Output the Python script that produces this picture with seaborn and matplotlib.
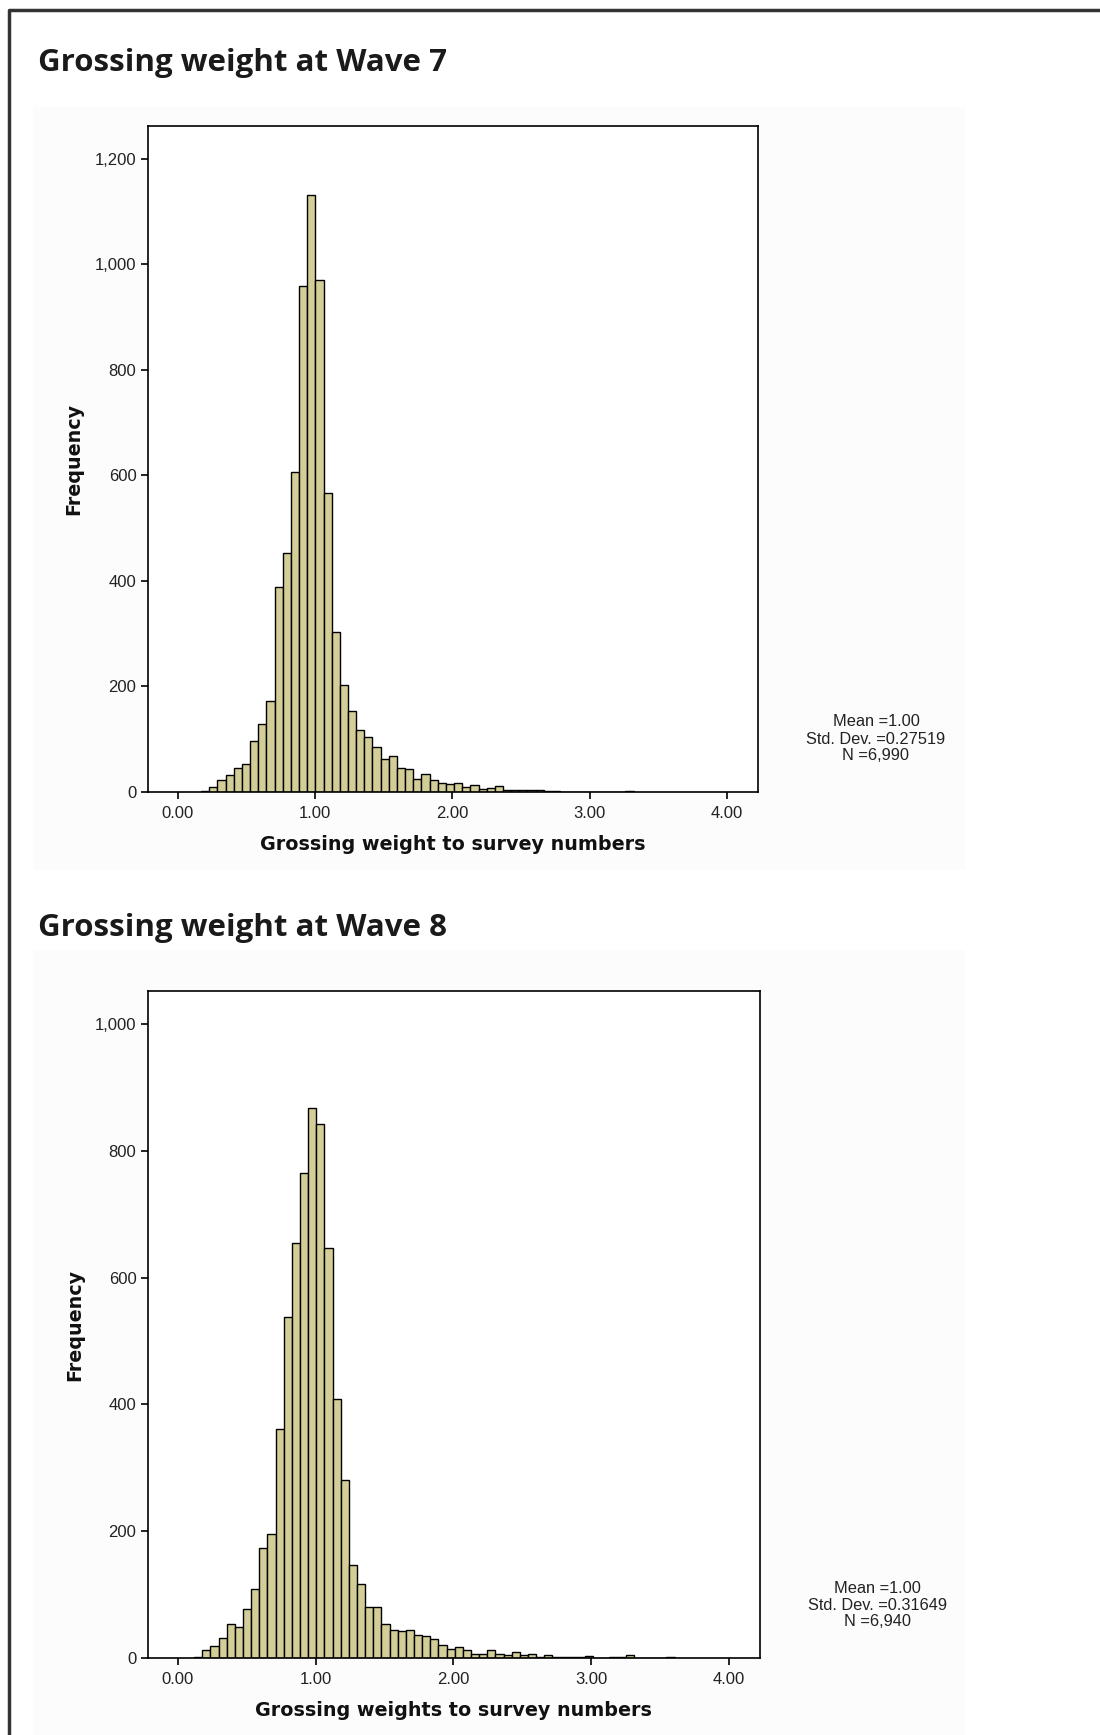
import numpy as np
import pandas as pd
import seaborn as sns
import matplotlib.pyplot as plt
from matplotlib.lines import Line2D
from matplotlib.patches import Rectangle
from matplotlib.ticker import FuncFormatter

# wave 7 histogram
w7_start = 0.1706
w7_width = 0.0594
w7_counts = [1, 10, 22, 32, 46, 54, 96, 128, 172, 388, 452, 607, 958, 1131, 971, 566,
             304, 203, 153, 117, 104, 86, 63, 68, 46, 43, 24, 35, 22, 17, 16, 18, 9, 13,
             6, 8, 11, 3, 3, 4, 3, 4, 1, 1, 0, 0, 0, 0, 0, 0, 0, 0, 1]
w7_stats = ['Mean =1.00', 'Std. Dev. =0.27519', 'N =6,990']
w7_title = 'Grossing weight at Wave 7'
w7_xlabel = 'Grossing weight to survey numbers'
w7_yticks = [0, 200, 400, 600, 800, 1000, 1200]

# wave 8 histogram
w8_start = 0.118
w8_width = 0.0591
w8_counts = [2, 12, 19, 32, 53, 49, 77, 109, 174, 196, 361, 538, 654, 765, 867, 842,
             647, 408, 281, 146, 116, 81, 80, 54, 44, 42, 44, 37, 34, 30, 21, 14, 17, 12,
             7, 7, 13, 7, 5, 10, 4, 7, 2, 4, 2, 2, 2, 1, 3, 0, 0, 1, 1, 5, 0, 0, 0, 0, 1]
w8_stats = ['Mean =1.00', 'Std. Dev. =0.31649', 'N =6,940']
w8_title = 'Grossing weight at Wave 8'
w8_xlabel = 'Grossing weights to survey numbers'
w8_yticks = [0, 200, 400, 600, 800, 1000]

xticks = [0, 1, 2, 3, 4]

sns.set_style('white')
plt.rcParams['font.family'] = ['Liberation Sans', 'DejaVu Sans']

W, H = 1100, 1735
fig = plt.figure(figsize=(W / 100, H / 100), dpi=100)
fig.patch.set_facecolor('white')


def fx(px):
    return px / W


def fy(py):
    return 1 - py / H


# outer frame (only left + top are inside the page)
fig.add_artist(Line2D([fx(9), fx(9), fx(W + 5)], [fy(H + 5), fy(10), fy(10)],
                      color='#333333', lw=2.5, transform=fig.transFigure))

# faint SPSS chart backgrounds
fig.add_artist(Rectangle((fx(33), fy(870)), fx(965) - fx(33), fy(107) - fy(870),
                         transform=fig.transFigure, facecolor='#fcfcfc', edgecolor='none', zorder=0))
fig.add_artist(Rectangle((fx(33), fy(H)), fx(965) - fx(33), fy(950) - fy(H),
                         transform=fig.transFigure, facecolor='#fcfcfc', edgecolor='none', zorder=0))

panels = [
    dict(start=w7_start, width=w7_width, counts=w7_counts, stats=w7_stats, title=w7_title,
         xlabel=w7_xlabel, yticks=w7_yticks, ytop=1262, box=(147.5, 126, 758, 792),
         title_y=63, stats_x=876, stats_y=[722, 739, 755]),
    dict(start=w8_start, width=w8_width, counts=w8_counts, stats=w8_stats, title=w8_title,
         xlabel=w8_xlabel, yticks=w8_yticks, ytop=1052, box=(147.5, 991, 760, 1658),
         title_y=928, stats_x=877, stats_y=[1588, 1605, 1621]),
]

for p in panels:
    l, t, r, b = p['box']
    ax = fig.add_axes([fx(l), fy(b), fx(r) - fx(l), fy(t) - fy(b)])
    ax.set_facecolor('white')

    counts = np.array(p['counts'], dtype=float)
    edges = p['start'] + p['width'] * np.arange(len(counts) + 1)
    df = pd.DataFrame({'w': (edges[:-1] + edges[1:]) / 2, 'n': counts})
    sns.histplot(data=df, x='w', weights='n', bins=edges.tolist(), color='#d3ce97',
                 edgecolor='black', linewidth=1.0, alpha=1, ax=ax)

    ax.set_xlim(-0.22, 4.225)
    ax.set_ylim(0, p['ytop'])
    ax.set_xticks(xticks)
    ax.set_yticks(p['yticks'])
    ax.xaxis.set_major_formatter(FuncFormatter(lambda v, pos: '%.2f' % v))
    ax.yaxis.set_major_formatter(FuncFormatter(lambda v, pos: '{:,.0f}'.format(v)))
    ax.tick_params(axis='both', direction='out', length=5, width=1.2, color='black',
                   labelsize=12, labelcolor='#222222', pad=3, bottom=True, left=True)
    ax.tick_params(axis='x', pad=5)
    for s in ax.spines.values():
        s.set_color('black')
        s.set_linewidth(1.2)

    ax.set_xlabel(p['xlabel'], fontfamily='DejaVu Sans', fontweight='bold', fontsize=13.8,
                  labelpad=10, color='#111111')
    ax.set_ylabel('Frequency', fontfamily='DejaVu Sans', fontweight='bold', fontsize=13.8,
                  labelpad=8, color='#111111')

    fig.text(fx(38), fy(p['title_y']), p['title'], fontfamily='Open Sans', fontweight='bold',
             fontsize=22.5, va='center', ha='left', color='#1a1a1a')

    for line, yy in zip(p['stats'], p['stats_y']):
        fig.text(fx(p['stats_x']), fy(yy), line, fontsize=11.8, ha='center', va='center',
                 color='#222222')

plt.savefig('out.png', dpi=100)
